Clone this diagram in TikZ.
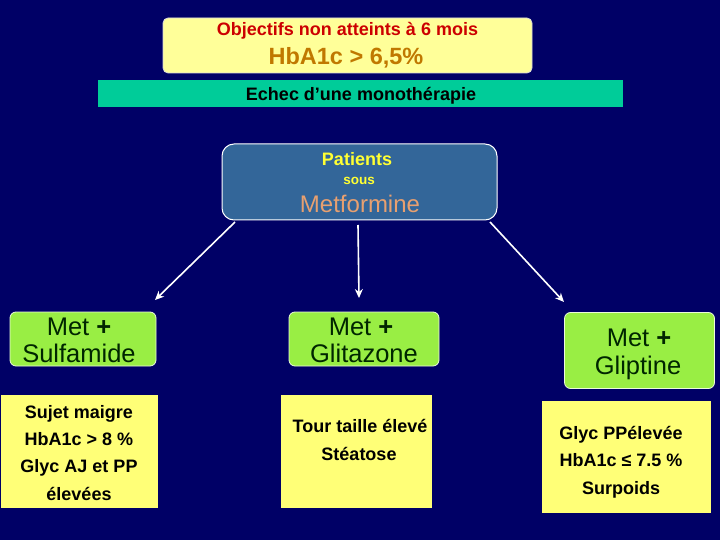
\documentclass[tikz,border=0pt]{standalone}
\usepackage{fontspec}
\setmainfont{Liberation Sans}
\usetikzlibrary{arrows.meta}
\definecolor{bgnavy}{HTML}{000066}
\definecolor{topyel}{HTML}{FFFF99}
\definecolor{teal}{HTML}{00CC99}
\definecolor{patblue}{HTML}{336699}
\definecolor{metorange}{HTML}{E8A070}
\definecolor{hbbrown}{HTML}{C07800}
\definecolor{objred}{HTML}{CC0000}
\definecolor{grn}{HTML}{99EE44}
\definecolor{crityel}{HTML}{FFFF77}
\definecolor{yeltxt}{HTML}{FFFF33}
\tikzset{
  greenbox/.style={draw=white!80!grn, line width=0.8pt, fill=grn, rounded corners=6pt},
  critbox/.style={fill=crityel},
  crittext/.style={font=\bfseries\fontsize{18}{20}\selectfont, text=black, text height=13pt, text depth=4pt, inner sep=0pt},
  medtext/.style={font=\fontsize{25.5}{27.5}\selectfont, text=black!85!green, text height=18.5pt, text depth=5.5pt, inner sep=0pt},
  arr/.style={draw=white, line width=1.6pt, -{Stealth[length=9pt,width=8pt]}}
}
\begin{document}
\begin{tikzpicture}[x=1pt,y=-1pt]
\fill[bgnavy] (0,0) rectangle (720,540);
\useasboundingbox (0,0) rectangle (720,540);
% top box
\draw[draw=white!70!gray, line width=0.8pt, fill=topyel, rounded corners=5pt] (163,18) rectangle (532,73);
\node[font=\bfseries\fontsize{18}{20}\selectfont, text=objred, text height=13pt, text depth=4pt, inner sep=0pt] (obj) at (347.5,31) {Objectifs non atteints à 6 mois};
\node[font=\bfseries\fontsize{23.5}{26}\selectfont, text=hbbrown, text height=16.5pt, text depth=5pt, inner sep=0pt] (hba) at (346,58.5) {HbA1c > 6,5\%};
% teal bar
\fill[teal] (98,80) rectangle (623,107);
\node[font=\bfseries\fontsize{18}{20}\selectfont, text=black, text height=13pt, text depth=4pt, inner sep=0pt] (echec) at (361,96) {Echec d’une monothérapie};
% patients box
\node[draw=white, line width=1pt, fill=patblue, rounded corners=12pt, minimum width=275pt, minimum height=76pt, inner sep=0pt] (pat) at (359.5,182) {};
\node[font=\bfseries\fontsize{18}{20}\selectfont, text=yeltxt, text height=13pt, text depth=4pt, inner sep=0pt] (patients) at (357,161.5) {Patients};
\node[font=\bfseries\fontsize{13.5}{15}\selectfont, text=yeltxt, text height=10pt, text depth=3pt, inner sep=0pt] (sous) at (359,181.5) {sous};
\node[font=\fontsize{24}{26}\selectfont, text=metorange, text height=17pt, text depth=5pt, inner sep=0pt] (metf) at (360,206) {Metformine};
% green boxes
\node[greenbox, minimum width=146pt, minimum height=54pt, inner sep=0pt] (sulf) at (83,339) {};
\node[medtext] (sulf1) at (79,328.5) {Met \textbf{+}};
\node[medtext] (sulf2) at (79,356) {Sulfamide};
\node[greenbox, minimum width=150pt, minimum height=54pt, inner sep=0pt] (glit) at (364,339) {};
\node[medtext] (glit1) at (361,329) {Met \textbf{+}};
\node[medtext] (glit2) at (364,355.5) {Glitazone};
\node[greenbox, minimum width=150pt, minimum height=76pt, inner sep=0pt] (glip) at (639.5,350.5) {};
\node[medtext] (glip1) at (639,339.5) {Met \textbf{+}};
\node[medtext] (glip2) at (638,368) {Gliptine};
% arrows
\coordinate (a1) at (235,222);
\coordinate (a2) at (358,225);
\coordinate (a3) at (490,222);
\coordinate (b1) at (155,300);
\coordinate (b2) at (359,298);
\coordinate (b3) at (564,302);
\draw[arr] (a1) -- (b1);
\draw[arr] (a2) -- (b2);
\draw[arr] (a3) -- (b3);
% criteria boxes
\node[critbox, minimum width=157pt, minimum height=113pt, inner sep=0pt] (c1) at (79.5,451.5) {};
\node[crittext] (c1a) at (79,413.5) {Sujet maigre};
\node[crittext] (c1b) at (79,440.5) {HbA1c > 8 \%};
\node[crittext] (c1c) at (79,467.5) {Glyc AJ et PP};
\node[crittext] (c1d) at (79,495.5) {élevées};
\node[critbox, minimum width=151pt, minimum height=113pt, inner sep=0pt] (c2) at (356.5,451.5) {};
\node[crittext] (c2a) at (360,427.5) {Tour taille élevé};
\node[crittext] (c2b) at (359,455.5) {Stéatose};
\node[critbox, minimum width=169pt, minimum height=112pt, inner sep=0pt] (c3) at (626.5,457) {};
\node[crittext] (c3a) at (621,434.5) {Glyc PPélevée};
\node[crittext] (c3b) at (621,462) {HbA1c ≤ 7.5 \%};
\node[crittext] (c3c) at (621,489.5) {Surpoids};
\end{tikzpicture}
\end{document}
